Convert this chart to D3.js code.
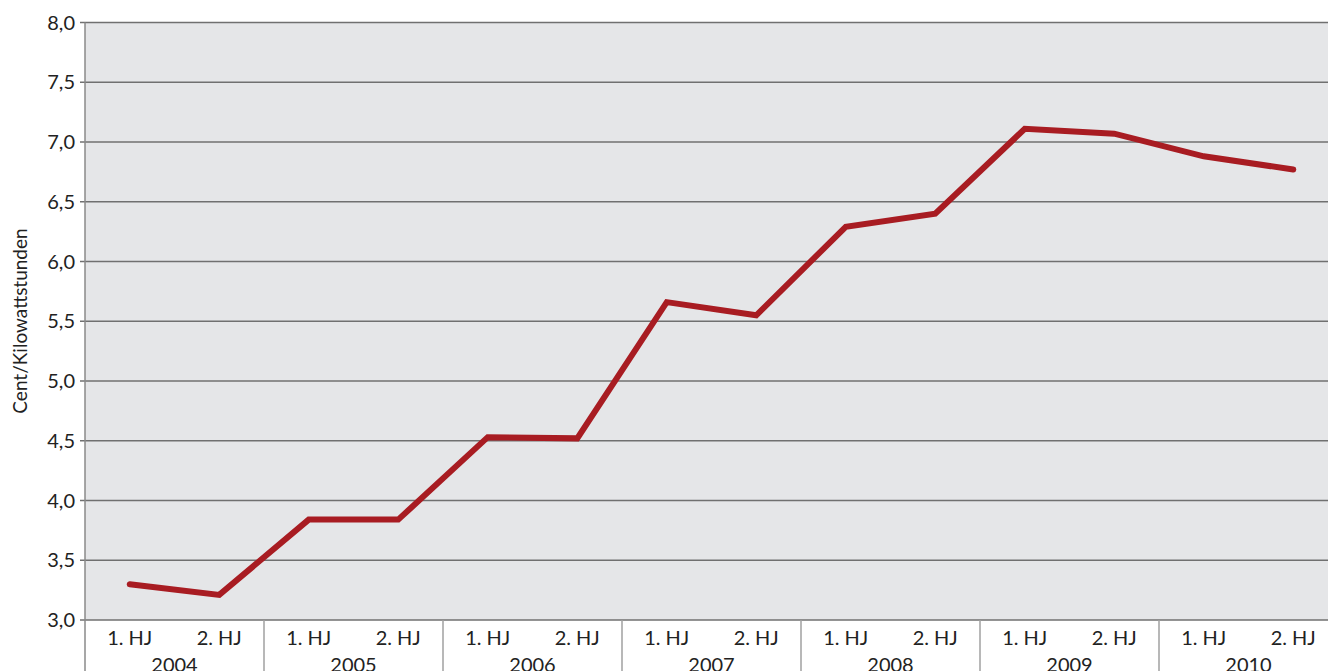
<!DOCTYPE html>
<html><head><meta charset="utf-8">
<script src="https://cdn.jsdelivr.net/npm/d3@7"></script>
<style>
body{margin:0;background:#fff;}
svg{display:block;font-family:"Lato","Open Sans",sans-serif;}
</style></head>
<body><svg id="c" width="1328" height="671"></svg>
<script>
const years = ["2004","2005","2006","2007","2008","2009","2010"];
const halves = ["1. HJ","2. HJ"];
const values = [3.30,3.21,3.84,3.84,4.53,4.52,5.66,5.55,6.29,6.40,7.11,7.07,6.88,6.77];
const yTicks = [3.0,3.5,4.0,4.5,5.0,5.5,6.0,6.5,7.0,7.5,8.0];
const yTitle = "Cent/Kilowattstunden";

(function(){
const cats = [];
years.forEach(y => halves.forEach(h => cats.push(y + "|" + h)));
const data = cats.map((c,i)=>({c, v: values[i]}));

const svg = d3.select("#c");
const pLeft = 85, pTop = 22.5, pBottom = 620, bandW = 89.5;
const pRight = pLeft + bandW*cats.length;

const x = d3.scaleBand().domain(cats).range([pLeft,pRight]).padding(0);
const xYear = d3.scaleBand().domain(years).range([pLeft,pRight]).padding(0);
const y = d3.scaleLinear().domain([3,8]).range([pBottom,pTop]);

svg.append("rect").attr("x",pLeft).attr("y",pTop).attr("width",pRight-pLeft).attr("height",pBottom-pTop).attr("fill","#e5e6e8");

// grid
svg.append("g").selectAll("line").data(yTicks).join("line")
  .attr("x1",pLeft-5).attr("x2",pRight)
  .attr("y1",d=>y(d)).attr("y2",d=>y(d))
  .attr("stroke","#707070").attr("stroke-width",1.5);

// y labels
const fmt = d => d3.format(".1f")(d).replace(".",",");
svg.append("g").selectAll("text").data(yTicks).join("text")
  .attr("x",75).attr("y",d=>y(d)).attr("dy","0.35em")
  .attr("text-anchor","end").attr("font-size",20).attr("fill","#222")
  .text(fmt);

// left axis line
svg.append("line").attr("x1",pLeft).attr("x2",pLeft).attr("y1",pTop).attr("y2",671)
  .attr("stroke","#8a8a8a").attr("stroke-width",1.5);

// year separators
svg.append("g").selectAll("line").data(years.slice(1)).join("line")
  .attr("x1",d=>xYear(d)).attr("x2",d=>xYear(d)).attr("y1",pBottom).attr("y2",671)
  .attr("stroke","#a0a0a0").attr("stroke-width",1.5);

// half labels
svg.append("g").selectAll("text").data(cats).join("text")
  .attr("x",d=>x(d)+x.bandwidth()/2).attr("y",638).attr("dy","0.35em")
  .attr("text-anchor","middle").attr("font-size",20).attr("fill","#222")
  .text(d=>d.split("|")[1]);

// year labels
svg.append("g").selectAll("text").data(years).join("text")
  .attr("x",d=>xYear(d)+xYear.bandwidth()/2).attr("y",665).attr("dy","0.35em")
  .attr("text-anchor","middle").attr("font-size",20).attr("fill","#222")
  .text(d=>d);

// y title
svg.append("text").attr("transform","translate(27,321) rotate(-90)")
  .attr("text-anchor","middle").attr("font-size",19).attr("fill","#222")
  .text(yTitle);

// line
const line = d3.line().x(d=>x(d.c)+x.bandwidth()/2).y(d=>y(d.v));
svg.append("path").datum(data).attr("d",line)
  .attr("fill","none").attr("stroke","#a81c22").attr("stroke-width",6)
  .attr("stroke-linecap","round").attr("stroke-linejoin","miter");
})();
</script>
</body></html>
